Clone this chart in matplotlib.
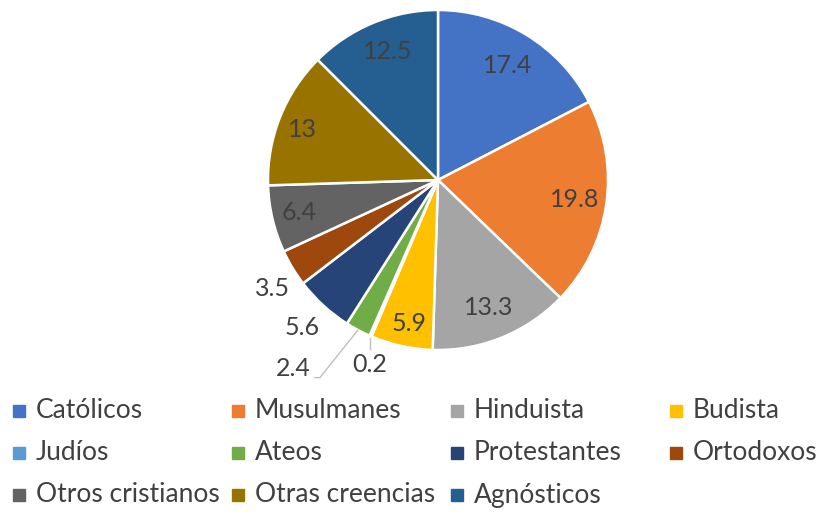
import numpy as np
import matplotlib
matplotlib.use("Agg")
import matplotlib.pyplot as plt
from matplotlib.patches import Rectangle

# data
labels = ["Católicos", "Musulmanes", "Hinduista", "Budista", "Judíos", "Ateos",
          "Protestantes", "Ortodoxos", "Otros cristianos", "Otras creencias", "Agnósticos"]
values = [17.4, 19.8, 13.3, 5.9, 0.2, 2.4, 5.6, 3.5, 6.4, 13, 12.5]
value_text = ["17.4", "19.8", "13.3", "5.9", "0.2", "2.4", "5.6", "3.5", "6.4", "13", "12.5"]
colors = ["#4472C4", "#ED7D31", "#A5A5A5", "#FFC000", "#5B9BD5", "#70AD47",
          "#264478", "#9E480E", "#636363", "#997300", "#255E91"]

# label placement: (radius factor, angle shift in degrees)
lab_r = [0.79, 0.81, 0.81, 0.86, 1.16, 1.40, 1.18, 1.165, 0.84, 0.85, 0.81]
lab_shift = [0, 0, -0.5, 1, 3, -9.5, 0, 2, 0, 1.3, -1.2]
leader = [False, False, False, False, True, True, False, False, False, False, False]

plt.rcParams["font.family"] = ["Lato", "DejaVu Sans"]
txt_col = "#404040"
fs = 18

W, H = 822, 512
fig = plt.figure(figsize=(W / 100, H / 100), dpi=100)
cx, cy, R = 438, 180, 170
ax = fig.add_axes([(cx - R) / W, (H - cy - R) / H, 2 * R / W, 2 * R / H])
wedges, _ = ax.pie(values, colors=colors, startangle=90, counterclock=False,
                   radius=1, wedgeprops=dict(edgecolor="white", linewidth=1.8))
ax.set_xlim(-1, 1)
ax.set_ylim(-1, 1)
ax.set_aspect("equal")
ax.axis("off")

for i, w in enumerate(wedges):
    mid = (w.theta1 + w.theta2) / 2
    a = np.deg2rad(mid + lab_shift[i])
    x, y = lab_r[i] * np.cos(a), lab_r[i] * np.sin(a)
    ax.text(x, y, value_text[i], ha="center", va="center", fontsize=fs,
            color=txt_col, clip_on=False)
    if leader[i]:
        m = np.deg2rad(mid)
        x0, y0 = np.cos(m), np.sin(m)
        if i == 4:
            ax.plot([x0, x0], [y0 - 0.01, y0 - 0.075], color="#BFBFBF", lw=1, clip_on=False)
        else:
            ax.plot([x0, x + 0.159, x + 0.129], [y0, y - 0.053, y - 0.053],
                    color="#BFBFBF", lw=1, clip_on=False)

# legend, drawn as a grid like the reference
col_x = [13, 232, 451, 670]
row_y = [411, 453, 495]
for k, name in enumerate(labels):
    r, c = divmod(k, 4)
    x = col_x[c]
    y = row_y[r]
    fig.patches.append(Rectangle((x / W, (H - y - 6) / H), 12 / W, 12 / H,
                                 transform=fig.transFigure, color=colors[k]))
    fig.text((x + 23) / W, (H - y) / H, name, ha="left", va="center",
             fontsize=19, color=txt_col)

fig.savefig("out.png", dpi=100)
